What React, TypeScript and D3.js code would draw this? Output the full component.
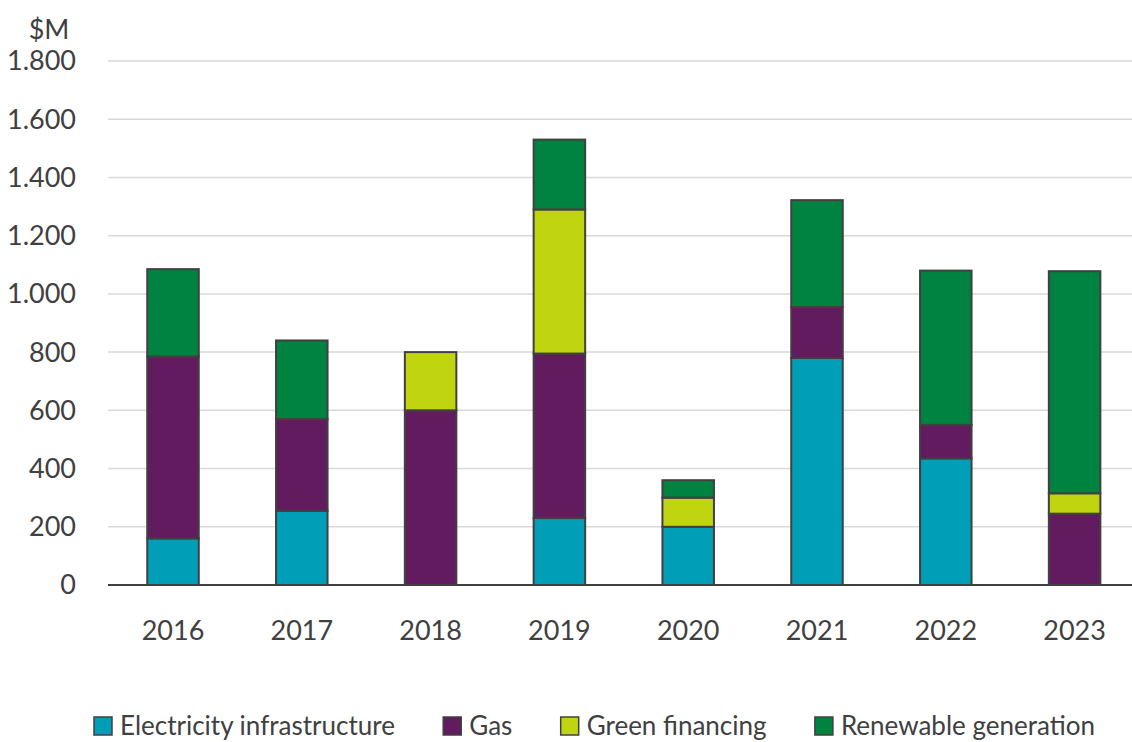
import React, { useEffect, useRef } from "react";
import * as d3 from "d3";

const years = ["2016", "2017", "2018", "2019", "2020", "2021", "2022", "2023"];
const electricity = [160, 255, 0, 230, 200, 780, 435, 0];
const gas = [625, 315, 600, 565, 0, 175, 115, 245];
const greenFinancing = [0, 0, 200, 495, 100, 0, 0, 70];
const renewable = [300, 270, 0, 240, 60, 367, 530, 763];
const seriesNames = ["Electricity infrastructure", "Gas", "Green financing", "Renewable generation"];
const seriesColors = ["#009FB7", "#621B5F", "#C0D510", "#008240"];
const yTicks = [0, 200, 400, 600, 800, 1000, 1200, 1400, 1600, 1800];
const yUnit = "$M";

const W = 1132;
const H = 742;
const FONT = "Lato, 'Open Sans', sans-serif";

export default function App() {
  const ref = useRef<SVGSVGElement>(null);

  useEffect(() => {
    const svg = d3.select(ref.current);
    svg.selectAll("*").remove();

    const x = d3.scaleBand().domain(years).range([108.6, 1139]).paddingInner(0.6).paddingOuter(0.3);
    const y = d3.scaleLinear().domain([0, 1800]).range([585, 61]);

    const rows = years.map((yr, i) => ({
      year: yr,
      s0: electricity[i],
      s1: gas[i],
      s2: greenFinancing[i],
      s3: renewable[i],
    }));
    const stack = d3.stack<any>().keys(["s0", "s1", "s2", "s3"]);
    const stacked = stack(rows);

    // gridlines
    svg
      .append("g")
      .selectAll("line")
      .data(yTicks.filter((t) => t > 0))
      .join("line")
      .attr("x1", 108)
      .attr("x2", W)
      .attr("y1", (d) => y(d))
      .attr("y2", (d) => y(d))
      .attr("stroke", "#d9d9d9")
      .attr("stroke-width", 1.5);

    // y tick labels
    const fmt = (v: number) => d3.format(",")(v).replace(/,/g, ".");
    svg
      .append("g")
      .selectAll("text")
      .data(yTicks)
      .join("text")
      .attr("x", 76)
      .attr("y", (d) => y(d))
      .attr("dy", "0.35em")
      .attr("text-anchor", "end")
      .attr("font-family", FONT)
      .attr("font-size", 27)
      .attr("fill", "#404040")
      .text((d) => fmt(d));

    svg
      .append("text")
      .attr("x", 49)
      .attr("y", 30)
      .attr("dy", "0.35em")
      .attr("text-anchor", "middle")
      .attr("font-family", FONT)
      .attr("font-size", 27)
      .attr("fill", "#404040")
      .text(yUnit);

    // bars
    const g = svg.append("g");
    stacked.forEach((layer, li) => {
      g.append("g")
        .selectAll("rect")
        .data(layer.filter((d) => d[1] - d[0] > 0))
        .join("rect")
        .attr("x", (d: any) => x(d.data.year)!)
        .attr("width", x.bandwidth())
        .attr("y", (d) => y(d[1]))
        .attr("height", (d) => y(d[0]) - y(d[1]))
        .attr("fill", seriesColors[li])
        .attr("stroke", "#404040")
        .attr("stroke-width", 2);
    });

    // baseline
    svg
      .append("line")
      .attr("x1", 108)
      .attr("x2", W)
      .attr("y1", y(0))
      .attr("y2", y(0))
      .attr("stroke", "#404040")
      .attr("stroke-width", 2);

    // x labels
    svg
      .append("g")
      .selectAll("text")
      .data(years)
      .join("text")
      .attr("x", (d) => x(d)! + x.bandwidth() / 2)
      .attr("y", 631)
      .attr("dy", "0.35em")
      .attr("text-anchor", "middle")
      .attr("font-family", FONT)
      .attr("font-size", 27)
      .attr("fill", "#404040")
      .text((d) => d);

    // legend
    const lg = svg.append("g");
    const items = lg.selectAll("g").data(seriesNames).join("g");
    items
      .append("rect")
      .attr("x", 1)
      .attr("y", -9)
      .attr("width", 18)
      .attr("height", 18)
      .attr("fill", (_d, i) => seriesColors[i])
      .attr("stroke", "#404040")
      .attr("stroke-width", 1.5);
    items
      .append("text")
      .attr("x", 27)
      .attr("y", 0)
      .attr("dy", "0.35em")
      .attr("font-family", FONT)
      .attr("font-size", 26)
      .attr("fill", "#404040")
      .text((d) => d);
    const widths: number[] = [];
    items.each(function () {
      const t = d3.select(this).select("text").node() as SVGTextElement;
      widths.push(27 + t.getComputedTextLength());
    });
    const left = 93;
    const right = 1095;
    const gap = (right - left - d3.sum(widths)) / (widths.length - 1);
    let cx = left;
    items.attr("transform", (_d, i) => {
      const tx = cx;
      cx += widths[i] + gap;
      return `translate(${tx},726)`;
    });
  }, []);

  return (
    <svg
      ref={ref}
      width={W}
      height={H}
      style={{ position: "absolute", left: 0, top: 0, background: "#fff" }}
    />
  );
}
